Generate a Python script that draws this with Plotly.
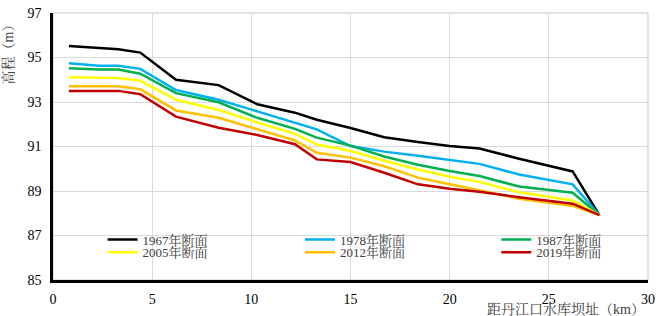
import plotly.graph_objects as go

# distance from Danjiangkou dam (km)
distance_km = [0.8, 2.3, 3.3, 4.4, 6.2, 8.35, 10.3, 12.2, 13.3, 15.0, 16.7, 18.4, 20.0, 21.5, 23.5, 26.2, 27.55]

elev_1967 = [95.52, 95.41, 95.37, 95.22, 94.00, 93.76, 92.90, 92.52, 92.20, 91.83, 91.42, 91.20, 91.02, 90.91, 90.45, 89.88, 87.92]
elev_1978 = [94.74, 94.63, 94.63, 94.49, 93.54, 93.10, 92.58, 92.08, 91.77, 91.02, 90.77, 90.58, 90.40, 90.22, 89.74, 89.30, 87.92]
elev_1987 = [94.52, 94.46, 94.46, 94.27, 93.40, 92.99, 92.29, 91.79, 91.40, 91.04, 90.55, 90.18, 89.90, 89.67, 89.20, 88.92, 87.92]
elev_2005 = [94.11, 94.09, 94.08, 93.96, 93.10, 92.64, 92.08, 91.57, 91.09, 90.80, 90.36, 89.97, 89.64, 89.41, 88.94, 88.57, 87.92]
elev_2012 = [93.71, 93.71, 93.71, 93.57, 92.62, 92.29, 91.79, 91.27, 90.72, 90.50, 90.11, 89.60, 89.30, 89.04, 88.65, 88.33, 87.92]
elev_2019 = [93.50, 93.50, 93.50, 93.35, 92.34, 91.84, 91.52, 91.10, 90.42, 90.30, 89.82, 89.30, 89.10, 88.97, 88.72, 88.43, 87.92]

series_names = ["1967年断面", "1978年断面", "1987年断面", "2005年断面", "2012年断面", "2019年断面"]
series_values = [elev_1967, elev_1978, elev_1987, elev_2005, elev_2012, elev_2019]
series_colors = ["#000000", "#00B0F0", "#00B050", "#FFFF00", "#FFC000", "#C00000"]

x_ticks = [0, 5, 10, 15, 20, 25, 30]
y_ticks = [85, 87, 89, 91, 93, 95, 97]

FONT = "Times New Roman, Liberation Serif, Noto Serif CJK SC, Noto Sans CJK SC, serif"

W, H = 661, 316
ml, mr, mt, mb = 53, 8, 6, 36
pw, ph = W - ml - mr, H - mt - mb

def px_x(px):
    return (px - ml) / pw

def px_y(py):
    return (H - mb - py) / ph

# legend placement (pixel positions of each entry: left, centre-y)
legend_pos = [(103, 238.5), (302, 238.5), (500, 238.5), (103, 251.5), (302, 251.5), (500, 251.5)]

fig = go.Figure()
legend_ids = ["legend", "legend2", "legend3", "legend4", "legend5", "legend6"]
for name, vals, col, lid in zip(series_names, series_values, series_colors, legend_ids):
    fig.add_trace(go.Scatter(
        x=distance_km, y=vals, mode="lines", name=name,
        line=dict(color=col, width=2.5), legend=lid,
    ))

layout_legends = {}
for lid, (lx, ly) in zip(legend_ids, legend_pos):
    layout_legends[lid] = dict(
        x=px_x(lx), y=px_y(ly), xanchor="left", yanchor="middle",
        bgcolor="rgba(0,0,0,0)", borderwidth=0,
        font=dict(family=FONT, size=13, color="#404040"),
        itemwidth=30, tracegroupgap=0,
    )

fig.update_layout(
    width=W, height=H,
    margin=dict(l=ml, r=mr, t=mt, b=mb),
    paper_bgcolor="white", plot_bgcolor="white",
    font=dict(family=FONT, size=13, color="#000000"),
    showlegend=True,
    **layout_legends,
)

fig.update_xaxes(
    range=[0, 30], tickvals=x_ticks, ticktext=[str(v) for v in x_ticks],
    showgrid=True, gridcolor="#d9d9d9", gridwidth=1,
    showline=True, linecolor="#000000", linewidth=2.5,
    ticks="outside", ticklen=4, tickcolor="rgba(0,0,0,0)",
    tickfont=dict(family=FONT, size=14, color="#000000"),
    ticklabeloverflow="allow",
    zeroline=False,
)
fig.update_yaxes(
    range=[85, 97], tickvals=y_ticks, ticktext=[str(v) for v in y_ticks],
    showgrid=True, gridcolor="#d9d9d9", gridwidth=1,
    showline=True, linecolor="#000000", linewidth=2.5,
    ticks="outside", ticklen=6, tickcolor="rgba(0,0,0,0)",
    tickfont=dict(family=FONT, size=14, color="#000000"),
    ticklabeloverflow="allow",
    zeroline=False,
)

# plot frame (top/right in light gray)
fig.add_shape(type="rect", xref="paper", yref="paper", x0=0, x1=1, y0=0, y1=1,
              line=dict(color="#d9d9d9", width=1.5), layer="below")

fig.add_annotation(text="高程（m）", xref="paper", yref="paper",
                   x=px_x(8), y=px_y(45), xanchor="center", yanchor="middle",
                   textangle=-90, showarrow=False,
                   font=dict(family=FONT, size=14, color="#404040"))
fig.add_annotation(text="距丹江口水库坝址（km）", xref="paper", yref="paper",
                   x=px_x(570), y=px_y(310), xanchor="center", yanchor="middle",
                   showarrow=False,
                   font=dict(family=FONT, size=14, color="#404040"))

fig.write_html("out.html", config={"displayModeBar": False},
               post_script="document.body.style.margin='0px';")
